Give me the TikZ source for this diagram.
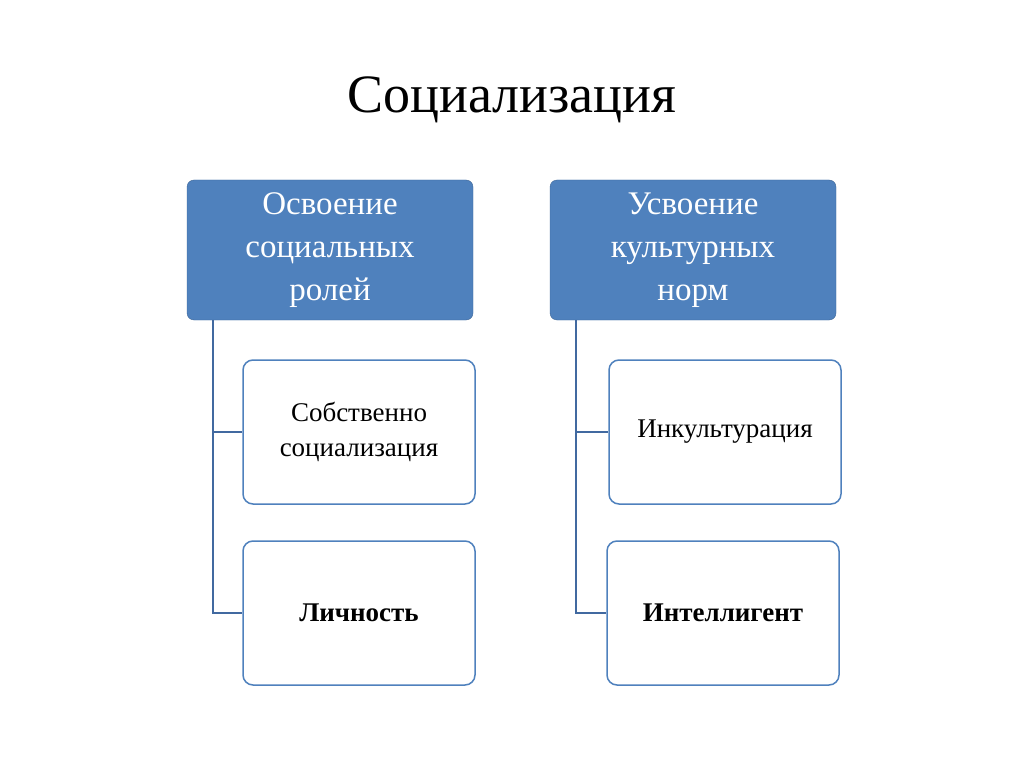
\documentclass[tikz,border=0pt]{standalone}
\usepackage{fontspec}
\setmainfont{Liberation Serif}
\usetikzlibrary{positioning}
\definecolor{headblue}{RGB}{79,129,189}
\definecolor{edgeblue}{RGB}{65,105,160}
\tikzset{
  headbox/.style={draw=headblue!80!black, fill=headblue, rounded corners=7pt, minimum width=286pt, minimum height=140pt, text=white, font=\fontsize{33}{43}\selectfont, align=center},
  itembox/.style={draw=headblue, line width=1.5pt, fill=white, rounded corners=10pt, minimum width=232pt, minimum height=144pt, font=\fontsize{27}{35}\selectfont, align=center},
  branch/.style={draw=edgeblue, line width=1.5pt}
}
\begin{document}
\begin{tikzpicture}[x=1pt, y=-1pt]
    \useasboundingbox (0,0) rectangle (1024,767);
    \node[font=\fontsize{54}{60}\selectfont] (title) at (512,100) {Социализация};

    \node[headbox] (roles) at (330,250) {Освоение\\социальных\\ролей};
    \node[headbox] (norms) at (693,250) {Усвоение\\культурных\\норм};

    \node[itembox] (proper) at (359,432) {Собственно\\социализация};
    \node[itembox] (person) at (359,613) {\textbf{Личность}};
    \node[itembox] (incult) at (725,432) {Инкультурация};
    \node[itembox] (intel) at (723,613) {\textbf{Интеллигент}};

    \coordinate (lroot) at (213,320);
    \coordinate (rroot) at (576,320);
    \draw[branch] (lroot) |- (proper.west);
    \draw[branch] (lroot) |- (person.west);
    \draw[branch] (rroot) |- (incult.west);
    \draw[branch] (rroot) |- (intel.west);
\end{tikzpicture}
\end{document}
